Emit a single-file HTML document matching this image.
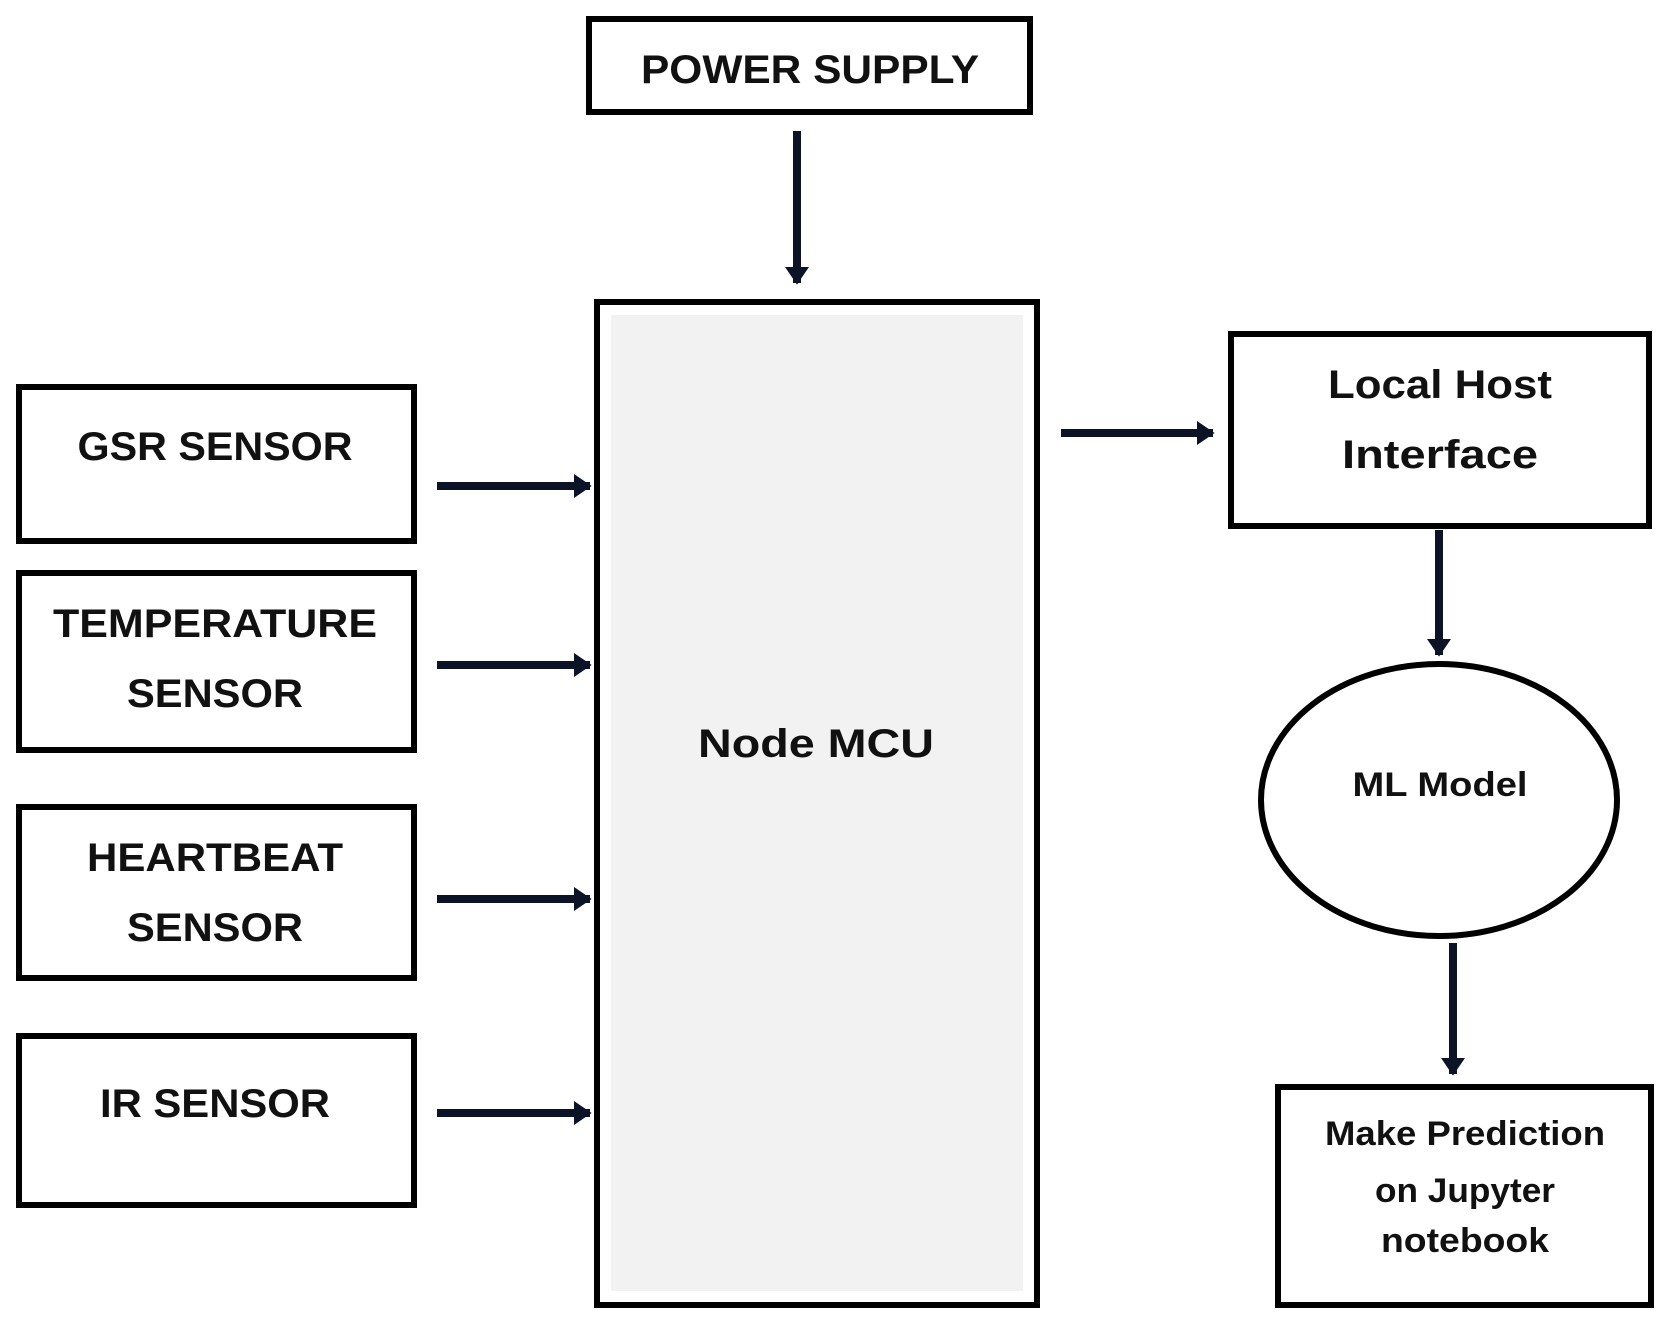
<!DOCTYPE html>
<html><head><style>html,body{margin:0;padding:0;background:#fff}svg{display:block}</style></head>
<body>
<svg width="1669" height="1322" viewBox="0 0 1669 1322" xmlns="http://www.w3.org/2000/svg">
<defs>
<marker id="ah" markerWidth="4" markerHeight="4" refX="2" refY="2" orient="auto" markerUnits="strokeWidth">
<path d="M0,0.5 L2.2,2 L0,3.5 Z" fill="#0d1326"/>
</marker>
</defs>
<g fill="none" stroke="#000" stroke-width="6">
<rect x="589" y="19" width="441" height="93" fill="#fff"/>
<rect x="597" y="302" width="440" height="1003" fill="#fff"/>
<rect x="19" y="387" width="395" height="154"/>
<rect x="19" y="573" width="395" height="177"/>
<rect x="19" y="807" width="395" height="171"/>
<rect x="19" y="1036" width="395" height="169"/>
<rect x="1231" y="334" width="418" height="192"/>
<ellipse cx="1439" cy="800" rx="178" ry="136"/>
<rect x="1278" y="1087" width="373" height="218"/>
</g>
<rect x="611" y="315" width="412" height="976" fill="#f2f2f2"/>
<g stroke="#0d1326" stroke-width="8" marker-end="url(#ah)">
<line x1="797" y1="131" x2="797" y2="283"/>
<line x1="437" y1="486" x2="590" y2="486"/>
<line x1="437" y1="665" x2="590" y2="665"/>
<line x1="437" y1="899" x2="590" y2="899"/>
<line x1="437" y1="1113" x2="590" y2="1113"/>
<line x1="1061" y1="433" x2="1213" y2="433"/>
<line x1="1439" y1="530" x2="1439" y2="655"/>
<line x1="1453" y1="943" x2="1453" y2="1074"/>
</g>
<g font-family="Liberation Sans, sans-serif" font-weight="bold" fill="#111" text-anchor="middle">
<text x="810" y="83" font-size="40" textLength="338" lengthAdjust="spacingAndGlyphs">POWER SUPPLY</text>
<text x="816" y="757" font-size="40" textLength="236" lengthAdjust="spacingAndGlyphs">Node MCU</text>
<text x="215" y="460" font-size="40" textLength="275" lengthAdjust="spacingAndGlyphs">GSR SENSOR</text>
<text x="215" y="637" font-size="40" textLength="324" lengthAdjust="spacingAndGlyphs">TEMPERATURE</text>
<text x="215" y="707" font-size="40" textLength="176" lengthAdjust="spacingAndGlyphs">SENSOR</text>
<text x="215" y="871" font-size="40" textLength="256" lengthAdjust="spacingAndGlyphs">HEARTBEAT</text>
<text x="215" y="941" font-size="40" textLength="176" lengthAdjust="spacingAndGlyphs">SENSOR</text>
<text x="215" y="1117" font-size="40" textLength="230" lengthAdjust="spacingAndGlyphs">IR SENSOR</text>
<text x="1440" y="398" font-size="40" textLength="224" lengthAdjust="spacingAndGlyphs">Local Host</text>
<text x="1440" y="468" font-size="40" textLength="196" lengthAdjust="spacingAndGlyphs">Interface</text>
<text x="1440" y="796" font-size="34" textLength="175" lengthAdjust="spacingAndGlyphs">ML Model</text>
<text x="1465" y="1145" font-size="34" textLength="280" lengthAdjust="spacingAndGlyphs">Make Prediction</text>
<text x="1465" y="1202" font-size="34" textLength="180" lengthAdjust="spacingAndGlyphs">on Jupyter</text>
<text x="1465" y="1252" font-size="34" textLength="168" lengthAdjust="spacingAndGlyphs">notebook</text>
</g>
</svg>
</body></html>
